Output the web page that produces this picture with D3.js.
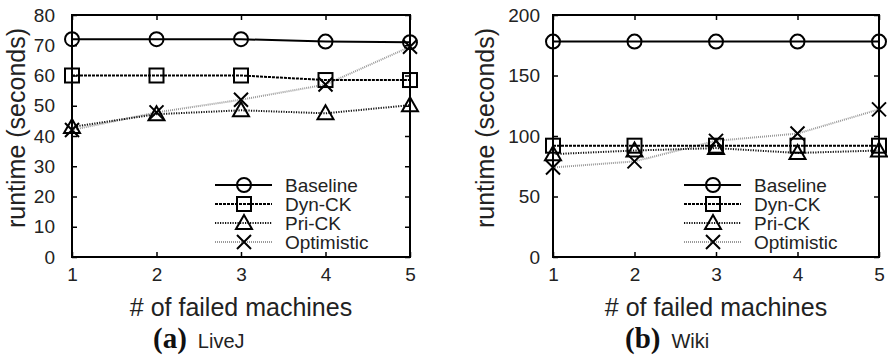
<html>
<script src="https://d3js.org/d3.v7.min.js"></script>
<style>
body{ margin:0; background:#fff; }
text{ font-family:"Liberation Sans", Arial, sans-serif; fill:#222; }
</style>
<body>
<svg id="chart" width="888" height="361"></svg>
</body>
<script>
// data
const machines = [1, 2, 3, 4, 5];
const seriesNames = ['Baseline', 'Dyn-CK', 'Pri-CK', 'Optimistic'];

const livejBaseline   = [72, 72, 72, 71.2, 71];
const livejDynCK      = [60, 60, 60, 58.5, 58.5];
const livejPriCK      = [43, 47.2, 48.5, 47.5, 50.2];
const livejOptimistic = [42, 47.8, 52, 57, 69.5];

const wikiBaseline   = [178, 178, 178, 178, 178];
const wikiDynCK      = [92, 92, 92, 92, 92];
const wikiPriCK      = [85, 88, 90, 86, 88];
const wikiOptimistic = [74, 79, 96, 102, 122];

const livejTicks = [0, 10, 20, 30, 40, 50, 60, 70, 80];
const wikiTicks = [0, 50, 100, 150, 200];

const styles = {
  'Baseline':   {stroke:'#000', dash:null,    marker:'circle'},
  'Dyn-CK':     {stroke:'#000', dash:'3,1',   marker:'square'},
  'Pri-CK':     {stroke:'#111', dash:'1.2,1.3', marker:'triangle'},
  'Optimistic': {stroke:'#999', dash:'1,1',   marker:'cross'}
};

const panels = [
  {left:72, right:410, max:80, ticks:livejTicks, tickPad:17, yLabelX:25,
   series:[livejBaseline, livejDynCK, livejPriCK, livejOptimistic],
   cap:'(a)', name:'LiveJ', capX:153},
  {left:553, right:879, max:200, ticks:wikiTicks, tickPad:13, yLabelX:494,
   series:[wikiBaseline, wikiDynCK, wikiPriCK, wikiOptimistic],
   cap:'(b)', name:'Wiki', capX:625}
];

const plotTop = 15, plotBottom = 257;
const svg = d3.select('#chart');

const drawMarker = (g, type, x, y) => {
  const r = 7;
  if(type == 'circle'){
    g.append('circle').attr('cx', x).attr('cy', y).attr('r', r);
  } else if(type == 'square'){
    g.append('rect').attr('x', x - r).attr('y', y - r).attr('width', 2*r).attr('height', 2*r);
  } else if(type == 'triangle'){
    g.append('path').attr('d', `M${x},${y-8}L${x+8},${y+6}L${x-8},${y+6}Z`);
  } else {
    g.append('path').attr('d', `M${x-7},${y-7}L${x+7},${y+7}M${x-7},${y+7}L${x+7},${y-7}`);
  }
};

panels.forEach(p => {
  const x = d3.scaleLinear().domain([1, 5]).range([p.left, p.right]);
  const y = d3.scaleLinear().domain([0, p.max]).range([plotBottom, plotTop]);
  const g = svg.append('g');

  // axes with inward ticks
  const fmt = g => g.call(s => s.select('.domain').remove())
                    .call(s => s.selectAll('line').attr('stroke', '#000').attr('stroke-width', 1.5))
                    .call(s => s.selectAll('text').attr('font-size', 19).attr('fill', '#222')
                      .attr('font-family', '"Liberation Sans", Arial, sans-serif'));
  g.append('g').attr('transform', `translate(0,${plotBottom})`)
    .call(d3.axisBottom(x).tickValues(machines).tickFormat(d3.format('d')).tickSize(-5).tickPadding(11)).call(fmt);
  g.append('g').attr('transform', `translate(0,${plotTop})`)
    .call(d3.axisTop(x).tickValues(machines).tickSize(-5).tickFormat('')).call(fmt);
  g.append('g').attr('transform', `translate(${p.left},0)`)
    .call(d3.axisLeft(y).tickValues(p.ticks).tickSize(-5).tickPadding(p.tickPad)).call(fmt);
  g.append('g').attr('transform', `translate(${p.right},0)`)
    .call(d3.axisRight(y).tickValues(p.ticks).tickSize(-5).tickFormat('')).call(fmt);

  g.append('rect')
    .attr('x', p.left).attr('y', plotTop)
    .attr('width', p.right - p.left).attr('height', plotBottom - plotTop)
    .attr('fill', 'none').attr('stroke', '#000').attr('stroke-width', 2);

  const line = d3.line().x((d, i) => x(machines[i])).y(d => y(d));

  // lines, drawn back to front
  [3, 2, 1, 0].forEach(k => {
    const st = styles[seriesNames[k]];
    g.append('path')
      .attr('d', line(p.series[k]))
      .attr('fill', 'none')
      .attr('stroke', st.stroke)
      .attr('stroke-width', 2)
      .attr('stroke-dasharray', st.dash);
  });

  const mk = g.append('g').attr('fill', 'none').attr('stroke', '#000').attr('stroke-width', 2);
  seriesNames.forEach((name, k) => {
    p.series[k].forEach((v, i) => drawMarker(mk, styles[name].marker, x(machines[i]), y(v)));
  });

  // legend
  const lg = g.append('g');
  seriesNames.forEach((name, k) => {
    const st = styles[name];
    const ly = 185 + k * 19;
    lg.append('line')
      .attr('x1', p.right - 195).attr('x2', p.right - 138)
      .attr('y1', ly).attr('y2', ly)
      .attr('stroke', st.stroke).attr('stroke-width', 2)
      .attr('stroke-dasharray', st.dash);
    const m = lg.append('g').attr('fill', 'none').attr('stroke', '#000').attr('stroke-width', 2);
    drawMarker(m, st.marker, p.right - 166, ly);
    lg.append('text')
      .attr('x', p.right - 125).attr('y', ly + 7)
      .attr('font-size', 19)
      .text(name);
  });

  // axis titles
  g.append('text')
    .attr('x', (p.left + p.right) / 2).attr('y', 316)
    .attr('text-anchor', 'middle').attr('font-size', 25)
    .text('# of failed machines');
  g.append('text')
    .attr('transform', `translate(${p.yLabelX},128) rotate(-90)`)
    .attr('text-anchor', 'middle').attr('font-size', 25)
    .text('runtime (seconds)');

  // caption
  const cap = g.append('text').attr('x', p.capX).attr('y', 348);
  cap.append('tspan')
    .attr('font-family', '"Liberation Serif", "Times New Roman", serif')
    .attr('font-weight', 'bold').attr('font-size', 29).attr('fill', '#111')
    .text(p.cap);
  cap.append('tspan').attr('font-size', 20).attr('dx', 11).text(p.name);
});
</script>
</html>
